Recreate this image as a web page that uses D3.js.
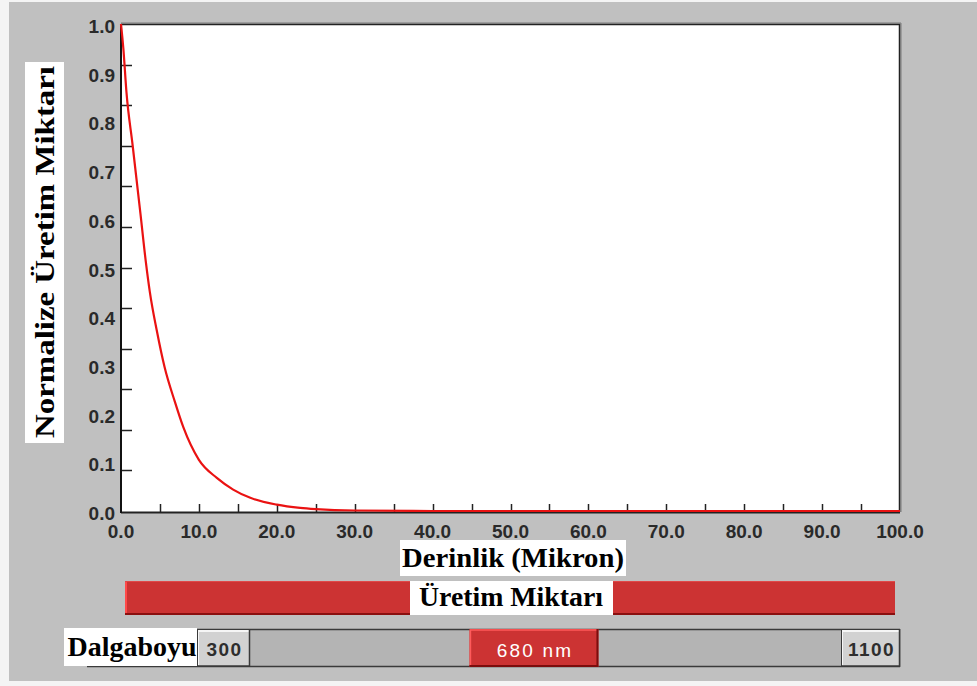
<!DOCTYPE html>
<html>
<head>
<meta charset="utf-8">
<script src="https://cdn.jsdelivr.net/npm/d3@7/dist/d3.min.js"></script>
<style>
  html, body { margin: 0; padding: 0; background: #f4f4f4; }
  svg { display: block; }
</style>
</head>
<body>
<script>
// Normalised generation rate versus depth for a 680 nm source
const depth = [0, 0.3, 0.7, 1.5, 2.5, 3.2, 3.7, 4.6, 5.6, 6.9, 8.0, 10.0, 12.3, 14.4, 16.6, 20.0, 23.0, 25.0, 30.0, 40.0, 50.0, 60.0, 70.0, 80.0, 90.0, 100.0];
const generation = [1.0, 0.95, 0.86, 0.75, 0.61, 0.51, 0.45, 0.37, 0.295, 0.225, 0.172, 0.105, 0.068, 0.044, 0.027, 0.013, 0.0065, 0.004, 0.001, 0, 0, 0, 0, 0, 0, 0];

const xLabels = ["0.0", "10.0", "20.0", "30.0", "40.0", "50.0", "60.0", "70.0", "80.0", "90.0", "100.0"];
const yLabels = ["0.0", "0.1", "0.2", "0.3", "0.4", "0.5", "0.6", "0.7", "0.8", "0.9", "1.0"];
const xTickStep = 5;        // depth units between x tick marks
const yTickDivisions = 12;  // tick marks along the y axis

const wavelengthMin = 300;
const wavelengthMax = 1100;
const wavelength = 680;

const W = 977, H = 686;
const svg = d3.select("body").append("svg").attr("width", W).attr("height", H);

// Grey panel
svg.append("rect").attr("x", 9).attr("y", 2).attr("width", W - 9).attr("height", 679).attr("fill", "#c0c0c0");

const plot = { left: 121, top: 24, right: 900, bottom: 512 };
const x = d3.scaleLinear().domain([0, 100]).range([plot.left, plot.right]);
const y = d3.scaleLinear().domain([0, 1]).range([plot.bottom - 1, plot.top]);

// Plot area
svg.append("rect").attr("x", plot.left).attr("y", plot.top)
  .attr("width", plot.right - plot.left).attr("height", plot.bottom - plot.top)
  .attr("fill", "#ffffff");
// frame shadow (top/right)
svg.append("path")
  .attr("d", `M${plot.left},${plot.top - 1}H${plot.right + 1}V${plot.bottom}`)
  .attr("fill", "none").attr("stroke", "#7a7a7a").attr("stroke-width", 1);
svg.append("path")
  .attr("d", `M${plot.left},${plot.top + 0.5}H${plot.right - 0.5}V${plot.bottom}`)
  .attr("fill", "none").attr("stroke", "#222").attr("stroke-width", 1.5);

// x tick marks (every 5 units, drawn upward into the plot)
const xTicks = d3.range(xTickStep, 100, xTickStep);
svg.append("g").selectAll("line").data(xTicks).join("line")
  .attr("x1", d => Math.round(x(d)) + 0.5).attr("x2", d => Math.round(x(d)) + 0.5)
  .attr("y1", plot.bottom).attr("y2", plot.bottom - 8)
  .attr("stroke", "#222").attr("stroke-width", 1.5);

// y tick marks
const yTicks = d3.range(1, yTickDivisions).map(i => i / yTickDivisions);
svg.append("g").selectAll("line").data(yTicks).join("line")
  .attr("x1", plot.left).attr("x2", plot.left + 11)
  .attr("y1", d => Math.round(y(d)) + 0.5).attr("y2", d => Math.round(y(d)) + 0.5)
  .attr("stroke", "#222").attr("stroke-width", 1.5);

// axis lines
svg.append("line").attr("x1", plot.left).attr("x2", plot.right)
  .attr("y1", plot.bottom + 0.5).attr("y2", plot.bottom + 0.5)
  .attr("stroke", "#222").attr("stroke-width", 2);
svg.append("line").attr("x1", plot.left).attr("x2", plot.left)
  .attr("y1", plot.top).attr("y2", plot.bottom + 1)
  .attr("stroke", "#111").attr("stroke-width", 2);

// Curve
const line = d3.line().x((d, i) => x(depth[i])).y(d => y(d)).curve(d3.curveMonotoneX);
svg.append("path").datum(generation)
  .attr("d", line)
  .attr("fill", "none").attr("stroke", "#ea1212").attr("stroke-width", 2.2);

// Tick labels
const tickFont = "'Liberation Sans', Arial, sans-serif";
svg.append("g").selectAll("text").data(xLabels).join("text")
  .attr("x", d => x(+d)).attr("y", 538)
  .attr("text-anchor", "middle")
  .attr("font-family", tickFont).attr("font-weight", "bold").attr("font-size", 19)
  .attr("fill", "#2a2a2a").text(d => d);
svg.append("g").selectAll("text").data(yLabels).join("text")
  .attr("x", 115).attr("y", d => y(+d) + 9)
  .attr("text-anchor", "end")
  .attr("font-family", tickFont).attr("font-weight", "bold").attr("font-size", 19)
  .attr("fill", "#2a2a2a").text(d => d);

// Titles on white boxes
const serif = "'Liberation Serif', 'Times New Roman', serif";
function boxedLabel(bx, by, bw, bh, text, tx, ty, len, rotate) {
  svg.append("rect").attr("x", bx).attr("y", by).attr("width", bw).attr("height", bh).attr("fill", "#ffffff");
  const t = svg.append("text")
    .attr("font-family", serif).attr("font-weight", "bold").attr("font-size", 28)
    .attr("fill", "#000").attr("text-anchor", "middle")
    .attr("textLength", len).attr("lengthAdjust", "spacingAndGlyphs")
    .text(text);
  if (rotate) t.attr("transform", `translate(${tx},${ty}) rotate(-90)`);
  else t.attr("x", tx).attr("y", ty);
}

boxedLabel(25, 62, 39, 381, "Normalize Üretim Miktarı", 54, 252, 372, true);
boxedLabel(400, 540, 226, 36, "Derinlik (Mikron)", 513, 567, 222, false);

// Generation bar
svg.append("rect").attr("x", 125).attr("y", 581).attr("width", 770).attr("height", 34).attr("fill", "#cc3333");
svg.append("line").attr("x1", 125).attr("x2", 895).attr("y1", 614).attr("y2", 614).attr("stroke", "#8a0f0f").attr("stroke-width", 2);
svg.append("line").attr("x1", 126).attr("x2", 126).attr("y1", 581).attr("y2", 613).attr("stroke", "#ff4a4a").attr("stroke-width", 2);
svg.append("line").attr("x1", 125).attr("x2", 895).attr("y1", 581.5).attr("y2", 581.5).attr("stroke", "#e04848").attr("stroke-width", 1);
boxedLabel(410, 581, 203, 34, "Üretim Miktarı", 511, 606, 184, false);

// Wavelength slider
const track = { left: 87, right: 900, top: 629, bottom: 667 };
const btnW = { lo: 53, hi: 59 };
const thumbW = 129;
svg.append("rect").attr("x", track.left).attr("y", track.top)
  .attr("width", track.right - track.left).attr("height", track.bottom - track.top)
  .attr("fill", "#b4b4b4");
svg.append("line").attr("x1", track.left).attr("x2", track.right).attr("y1", track.top + 0.5).attr("y2", track.top + 0.5).attr("stroke", "#3a3a3a").attr("stroke-width", 1.5);
svg.append("line").attr("x1", track.left).attr("x2", track.right).attr("y1", track.bottom - 0.5).attr("y2", track.bottom - 0.5).attr("stroke", "#3a3a3a").attr("stroke-width", 1.5);
svg.append("line").attr("x1", track.right - 0.5).attr("x2", track.right - 0.5).attr("y1", track.top).attr("y2", track.bottom).attr("stroke", "#3a3a3a").attr("stroke-width", 1.5);

function button(bx, bw, label) {
  svg.append("rect").attr("x", bx).attr("y", track.top + 1).attr("width", bw).attr("height", track.bottom - track.top - 2).attr("fill", "#d2d2d2");
  svg.append("path").attr("d", `M${bx + 1},${track.bottom - 2}V${track.top + 2}H${bx + bw - 1}`)
    .attr("fill", "none").attr("stroke", "#f6f6f6").attr("stroke-width", 2);
  svg.append("path").attr("d", `M${bx},${track.bottom - 1}H${bx + bw - 0.5}V${track.top}`)
    .attr("fill", "none").attr("stroke", "#3a3a3a").attr("stroke-width", 1.5);
  svg.append("line").attr("x1", bx + 0.5).attr("x2", bx + 0.5).attr("y1", track.top).attr("y2", track.bottom)
    .attr("stroke", "#3a3a3a").attr("stroke-width", 1);
  svg.append("text").attr("x", bx + bw / 2 + 1).attr("y", 656)
    .attr("text-anchor", "middle").attr("font-family", tickFont).attr("font-weight", "bold")
    .attr("font-size", 19).attr("letter-spacing", 1.5).attr("fill", "#2e2e2e").text(label);
}
const loX = 197, hiX = track.right - btnW.hi;
button(loX, btnW.lo, String(wavelengthMin));
button(hiX, btnW.hi, String(wavelengthMax));

// Thumb position follows the wavelength
const wl = d3.scaleLinear().domain([wavelengthMin, wavelengthMax]).range([loX + btnW.lo, hiX - thumbW]);
const tx = wl(wavelength);
svg.append("rect").attr("x", tx).attr("y", track.top).attr("width", thumbW).attr("height", track.bottom - track.top)
  .attr("fill", "#cc3333");
svg.append("path").attr("d", `M${tx + 1},${track.bottom - 2}V${track.top + 1}H${tx + thumbW - 1}`)
  .attr("fill", "none").attr("stroke", "#ff5a5a").attr("stroke-width", 1.5);
svg.append("path").attr("d", `M${tx},${track.bottom - 1}H${tx + thumbW - 1}V${track.top}`)
  .attr("fill", "none").attr("stroke", "#7c0d0d").attr("stroke-width", 2);
svg.append("text").attr("x", tx + thumbW / 2 + 1).attr("y", 657)
  .attr("text-anchor", "middle").attr("font-family", tickFont)
  .attr("font-size", 19).attr("letter-spacing", 2.2).attr("fill", "#ffffff").text(wavelength + " nm");

boxedLabel(64, 628, 133, 38, "Dalgaboyu", 132, 656, 129, false);
</script>
</body>
</html>
